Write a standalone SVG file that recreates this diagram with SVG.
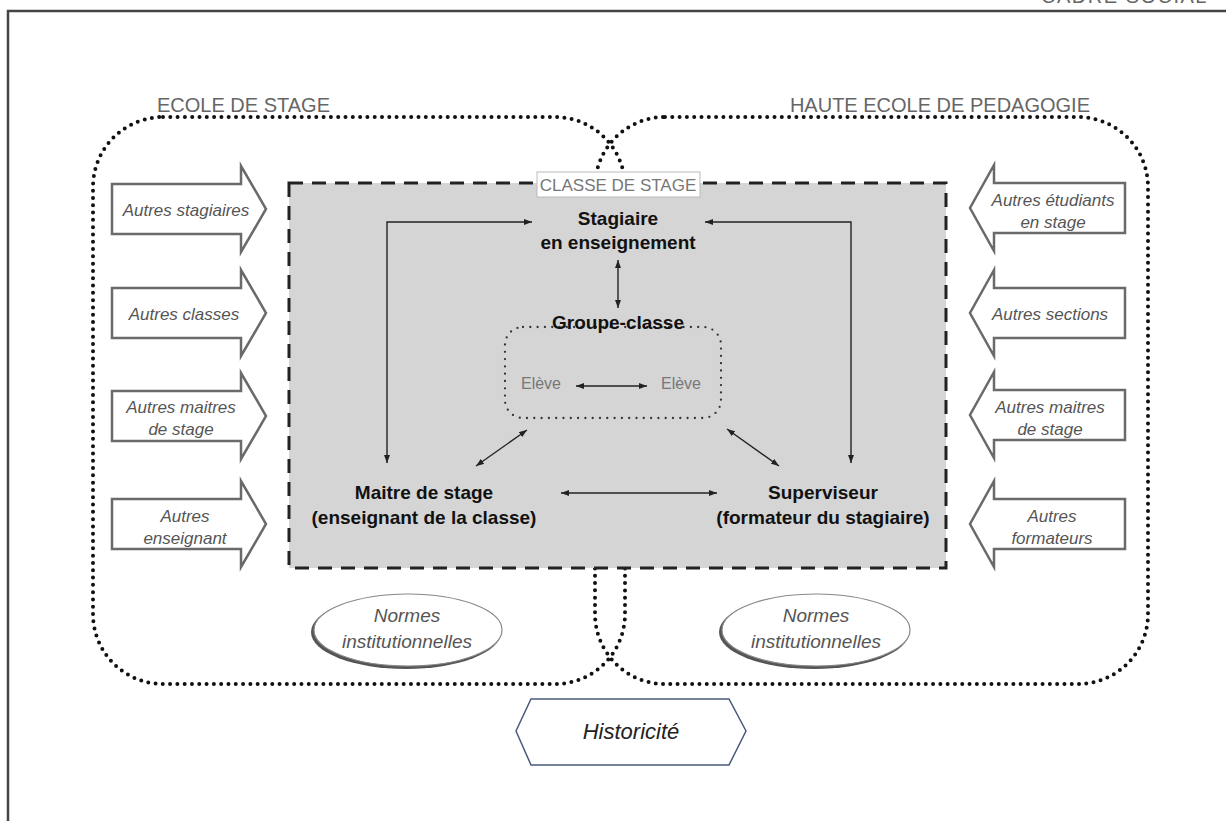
<svg xmlns="http://www.w3.org/2000/svg" width="1226" height="821" viewBox="0 0 1226 821">
<defs>
<style>
.frame{fill:none;stroke:#444;stroke-width:2.5}
.dotted{fill:none;stroke:#111;stroke-width:4;stroke-dasharray:0 7.3;stroke-linecap:round}
.dots2{fill:none;stroke:#333;stroke-width:2.3;stroke-dasharray:0 7.3;stroke-linecap:round}
.hdr{font-family:"Liberation Sans",Arial,sans-serif;font-size:20px;fill:#666}
.lbl{font-family:"Liberation Sans",Arial,sans-serif;font-size:17px;fill:#777;text-anchor:middle}
.bold{font-family:"Liberation Sans",Arial,sans-serif;font-size:19px;font-weight:bold;fill:#111;text-anchor:middle}
.it{font-family:"Liberation Sans",Arial,sans-serif;font-size:17px;font-style:italic;fill:#555;text-anchor:middle}
.itn{font-family:"Liberation Sans",Arial,sans-serif;font-size:19px;font-style:italic;fill:#555;text-anchor:middle}
.eleve{font-family:"Liberation Sans",Arial,sans-serif;font-size:16px;fill:#777;text-anchor:middle}
.blk{fill:#fff;stroke:#6a6a6a;stroke-width:2.5;stroke-linejoin:miter}
.con{fill:none;stroke:#222;stroke-width:1.4;marker-start:url(#ah);marker-end:url(#ah)}
</style>
<marker id="ah" viewBox="0 0 8 6" refX="8" refY="3" markerWidth="8" markerHeight="6" markerUnits="userSpaceOnUse" orient="auto-start-reverse">
<path d="M0,0 L8,3 L0,6 z" fill="#222"/>
</marker>
</defs>

<g id="cadre-social">
<path class="frame" d="M8 830 L8 11 L1240 11"/>
<text x="1208" y="3" class="hdr" text-anchor="end" letter-spacing="1.5" fill="#777">CADRE SOCIAL</text>
</g>

<g id="ecole-de-stage">
<rect class="dotted" x="93" y="117" width="532" height="567" rx="70" ry="70"/>
<text x="157" y="112" class="hdr">ECOLE DE STAGE</text>
</g>

<g id="haute-ecole">
<rect class="dotted" x="595" y="117" width="553" height="567" rx="70" ry="70"/>
<text x="1090" y="112" class="hdr" text-anchor="end">HAUTE ECOLE DE PEDAGOGIE</text>
</g>

<g id="classe-de-stage">
<rect x="289" y="183" width="657" height="385" fill="#d5d5d5" stroke="#222" stroke-width="3" stroke-dasharray="14 9"/>
<rect x="537" y="172" width="163" height="25" fill="#fff" stroke="#bbb" stroke-width="1"/>
<text x="618" y="191" class="lbl">CLASSE DE STAGE</text>
</g>

<g id="stagiaire">
<text x="618" y="225" class="bold">Stagiaire</text>
<text x="618" y="249" class="bold">en enseignement</text>
</g>

<g id="groupe-classe">
<rect class="dots2" x="505" y="327" width="216" height="91" rx="18" ry="18"/>
<text x="618" y="329" class="bold">Groupe-classe</text>
</g>

<g id="eleve-1"><text x="541" y="389" class="eleve">Elève</text></g>
<g id="eleve-2"><text x="681" y="389" class="eleve">Elève</text></g>

<g id="maitre-de-stage">
<text x="424" y="499" class="bold">Maitre de stage</text>
<text x="424" y="524" class="bold">(enseignant de la classe)</text>
</g>

<g id="superviseur">
<text x="823" y="499" class="bold">Superviseur</text>
<text x="823" y="524" class="bold">(formateur du stagiaire)</text>
</g>

<g id="connectors">
<path class="con" d="M532 222 L387 222 L387 463"/>
<path class="con" d="M705 222 L851 222 L851 463"/>
<path class="con" d="M618 260 L618 308"/>
<path class="con" d="M576 386 L647 386" stroke-width="2"/>
<path class="con" d="M527 430 L476 466"/>
<path class="con" d="M727 429 L779 466"/>
<path class="con" d="M561 493 L717 493"/>
</g>

<g id="autres-stagiaires">
<path class="blk" d="M112 184 L241 184 L241 166 L266 209 L241 252 L241 234 L112 234 Z"/>
<text x="186" y="216" class="it">Autres stagiaires</text>
</g>
<g id="autres-classes">
<path class="blk" d="M112 288 L241 288 L241 270 L266 313 L241 356 L241 338 L112 338 Z"/>
<text x="184" y="320" class="it">Autres classes</text>
</g>
<g id="autres-maitres-gauche">
<path class="blk" d="M112 391 L241 391 L241 373 L266 416 L241 459 L241 441 L112 441 Z"/>
<text x="181" y="413" class="it">Autres maitres</text>
<text x="181" y="435" class="it">de stage</text>
</g>
<g id="autres-enseignant">
<path class="blk" d="M112 499 L241 499 L241 481 L266 524 L241 567 L241 549 L112 549 Z"/>
<text x="185" y="522" class="it">Autres</text>
<text x="185" y="544" class="it">enseignant</text>
</g>

<g id="autres-etudiants">
<path class="blk" d="M1125 183 L994 183 L994 165 L970 208 L994 251 L994 233 L1125 233 Z"/>
<text x="1053" y="206" class="it">Autres étudiants</text>
<text x="1053" y="228" class="it">en stage</text>
</g>
<g id="autres-sections">
<path class="blk" d="M1125 288 L994 288 L994 270 L970 313 L994 356 L994 338 L1125 338 Z"/>
<text x="1050" y="320" class="it">Autres sections</text>
</g>
<g id="autres-maitres-droite">
<path class="blk" d="M1125 390 L994 390 L994 372 L970 415 L994 458 L994 440 L1125 440 Z"/>
<text x="1050" y="413" class="it">Autres maitres</text>
<text x="1050" y="435" class="it">de stage</text>
</g>
<g id="autres-formateurs">
<path class="blk" d="M1125 499 L994 499 L994 481 L970 524 L994 567 L994 549 L1125 549 Z"/>
<text x="1052" y="522" class="it">Autres</text>
<text x="1052" y="544" class="it">formateurs</text>
</g>

<g id="normes-gauche">
<ellipse cx="406" cy="632" rx="95" ry="37" fill="#555"/>
<ellipse cx="408" cy="630" rx="94" ry="36" fill="#fff" stroke="#888" stroke-width="1.2"/>
<text x="407" y="622" class="itn">Normes</text>
<text x="407" y="648" class="itn">institutionnelles</text>
</g>
<g id="normes-droite">
<ellipse cx="814" cy="632" rx="95" ry="37" fill="#555"/>
<ellipse cx="816" cy="630" rx="94" ry="36" fill="#fff" stroke="#888" stroke-width="1.2"/>
<text x="816" y="622" class="itn">Normes</text>
<text x="816" y="648" class="itn">institutionnelles</text>
</g>

<g id="historicite">
<path d="M531 699 L729 699 L746 731 L729 765 L531 765 L516 731 Z" fill="#fff" stroke="#4a5a7a" stroke-width="1.5"/>
<text x="631" y="739" font-family="Liberation Sans, Arial, sans-serif" font-size="22" font-style="italic" fill="#222" text-anchor="middle">Historicité</text>
</g>
</svg>
